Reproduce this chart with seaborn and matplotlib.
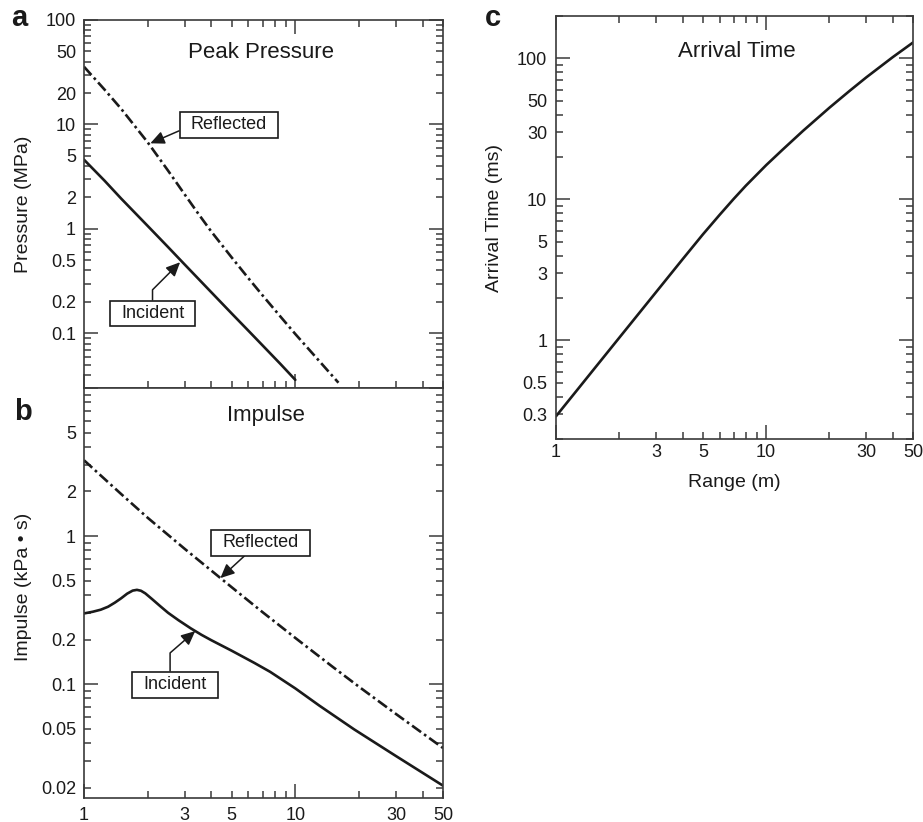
import matplotlib
matplotlib.use("Agg")
import matplotlib.pyplot as plt
from matplotlib.ticker import FuncFormatter
import pandas as pd
import seaborn as sns

# ---- data: blast parameters versus range (m) ----
pa_inc_range = [1, 1.25, 1.5, 2, 2.5, 3, 4, 5, 6, 7, 8.5, 10]
pa_inc_mpa = [4.6, 2.9, 1.95, 1.07, 0.67, 0.455, 0.248, 0.155, 0.106, 0.0767, 0.051, 0.0359]
pa_ref_range = [1, 1.25, 1.5, 2, 2.5, 3, 3.5, 4, 5, 6, 7, 8.5, 10, 13, 16]
pa_ref_mpa = [35.7, 21.6, 14.1, 6.76, 3.61, 2.13, 1.37, 0.946, 0.533, 0.337,
              0.231, 0.145, 0.0986, 0.0542, 0.0337]

ib_inc_range = [1, 1.1, 1.2, 1.3, 1.4, 1.5, 1.6, 1.7, 1.78, 1.86, 1.95, 2.1,
                2.3, 2.5, 2.8, 3.2, 3.6, 4, 5, 6.4, 7.6, 10, 13, 19, 30, 50]
ib_inc_kpas = [0.30, 0.308, 0.318, 0.333, 0.355, 0.38, 0.408, 0.428, 0.433,
               0.427, 0.41, 0.375, 0.335, 0.303, 0.27, 0.238, 0.215, 0.198,
               0.168, 0.139, 0.121, 0.0935, 0.0715, 0.0494, 0.0326, 0.0206]
ib_ref_range = [1, 1.5, 2, 3, 4, 5, 7, 10, 15, 20, 30, 50]
ib_ref_kpas = [3.25, 1.92, 1.33, 0.818, 0.585, 0.451, 0.306, 0.205, 0.131,
               0.096, 0.0627, 0.037]

at_range = [1, 1.25, 1.5, 2, 2.5, 3, 4, 5, 6, 7, 8, 10, 12, 15, 20, 25, 30, 40, 50]
at_ms = [0.29, 0.438, 0.614, 1.045, 1.578, 2.21, 3.76, 5.65, 7.76, 10.07, 12.5,
         17.5, 22.6, 30.7, 44.7, 59.0, 73.5, 102, 129.7]

x_ticklabels = [1, 3, 5, 10, 30, 50]
a_ticklabels = [100, 50, 20, 10, 5, 2, 1, 0.5, 0.2, 0.1]
b_ticklabels = [5, 2, 1, 0.5, 0.2, 0.1, 0.05, 0.02]
c_ticklabels = [100, 50, 30, 10, 5, 3, 1, 0.5, 0.3]

sns.set_theme(style="ticks")
plt.rcParams["font.family"] = ["Liberation Sans", "DejaVu Sans"]

INK = "#1a1a1a"
FRAME = "#3a3a3a"
DASHDOT = (0, (4.2, 1.4, 1.0, 1.4))

W, H = 923, 822
fig = plt.figure(figsize=(W / 100, H / 100), dpi=100)


def px_axes(left, top, right, bottom):
    return fig.add_axes([left / W, 1 - bottom / H, (right - left) / W, (bottom - top) / H])


ax_a = px_axes(84, 20, 443, 388)
ax_b = px_axes(84, 388, 443, 798)
ax_c = px_axes(556, 16, 913, 439)


def only(values):
    def f(v, pos):
        for t in values:
            if abs(v - t) / t < 1e-6:
                return "%g" % t
        return ""
    return FuncFormatter(f)


def style(ax, ylim, ylabels, xlabels, top=True, xpad=5.0, ypad=5.8):
    ax.set_xscale("log")
    ax.set_yscale("log")
    ax.set_xlim(1, 50)
    ax.set_ylim(*ylim)
    ax.grid(False)
    for s in ax.spines.values():
        s.set_color(FRAME)
        s.set_linewidth(1.2)
    ax.tick_params(which="both", direction="in", top=top, right=True,
                   bottom=True, left=True, color=FRAME, width=1.1,
                   labelsize=13, labelcolor=INK)
    ax.tick_params(which="major", length=10)
    ax.tick_params(which="minor", length=5)
    ax.tick_params(axis="x", which="both", pad=xpad)
    ax.tick_params(axis="y", which="both", pad=ypad)
    ax.yaxis.set_major_formatter(only(ylabels))
    ax.yaxis.set_minor_formatter(only(ylabels))
    shown = xlabels if xlabels else []
    ax.xaxis.set_major_formatter(only(shown))
    ax.xaxis.set_minor_formatter(only(shown))


def curve(ax, x, y, dashed=False):
    df = pd.DataFrame({"range": x, "value": y})
    kw = dict(linestyle=DASHDOT) if dashed else {}
    sns.lineplot(data=df, x="range", y="value", ax=ax, color=INK, lw=1.9,
                 sort=True, estimator=None, **kw)
    ax.set_xlabel("")
    ax.set_ylabel("")


def callout(ax, text, xy, xytext, relpos=(0.5, 0.5), conn="arc3"):
    ax.annotate(text, xy=xy, xytext=xytext, ha="center", va="center",
                fontsize=13, color=INK,
                bbox=dict(boxstyle="square,pad=0.62", fc="white", ec=INK,
                          lw=1.2, mutation_aspect=0.4),
                arrowprops=dict(arrowstyle="-|>,head_length=0.65,head_width=0.3",
                                color=INK, lw=1.1, shrinkA=0, shrinkB=0,
                                relpos=relpos, connectionstyle=conn))


# (a) peak pressure
curve(ax_a, pa_inc_range, pa_inc_mpa)
curve(ax_a, pa_ref_range, pa_ref_mpa, dashed=True)
style(ax_a, (0.03, 100), a_ticklabels, None, top=True)
ax_a.text(0.493, 0.913, "Peak Pressure", transform=ax_a.transAxes,
          ha="center", va="center", fontsize=16, color=INK)
ax_a.set_ylabel("Pressure (MPa)", fontsize=14, color=INK)
ax_a.yaxis.set_label_coords(-0.145, 0.5)
callout(ax_a, "Reflected", xy=(2.06, 6.6), xytext=(4.85, 9.9), relpos=(0.0, 0.45))
callout(ax_a, "Incident", xy=(2.85, 0.48), xytext=(2.11, 0.155), relpos=(0.5, 1.0),
        conn="angle,angleA=90,angleB=45,rad=0")

# (b) impulse
curve(ax_b, ib_inc_range, ib_inc_kpas)
curve(ax_b, ib_ref_range, ib_ref_kpas, dashed=True)
style(ax_b, (0.017, 10), b_ticklabels, x_ticklabels, top=False, xpad=6.2)
ax_b.text(0.507, 0.932, "Impulse", transform=ax_b.transAxes,
          ha="center", va="center", fontsize=16, color=INK)
ax_b.set_ylabel("Impulse (kPa \u2022 s)", fontsize=14, color=INK)
ax_b.yaxis.set_label_coords(-0.145, 0.515)
callout(ax_b, "Reflected", xy=(4.42, 0.52), xytext=(6.84, 0.904), relpos=(0.36, 0.0))
callout(ax_b, "Incident", xy=(3.36, 0.228), xytext=(2.70, 0.0993), relpos=(0.42, 1.0),
        conn="angle,angleA=90,angleB=41,rad=0")

# (c) arrival time
curve(ax_c, at_range, at_ms)
style(ax_c, (0.2, 200), c_ticklabels, x_ticklabels, top=True, xpad=3.5, ypad=6.3)
ax_c.text(0.507, 0.917, "Arrival Time", transform=ax_c.transAxes,
          ha="center", va="center", fontsize=16, color=INK)
ax_c.set_ylabel("Arrival Time (ms)", fontsize=14, color=INK)
ax_c.yaxis.set_label_coords(-0.148, 0.522)
ax_c.set_xlabel("Range (m)", fontsize=14, color=INK)
ax_c.xaxis.set_label_coords(0.5, -0.082)

# panel letters
for letter, (lx, ly) in {"a": (19.5, 26), "b": (23, 420), "c": (493, 26)}.items():
    fig.text(lx / W, 1 - ly / H, letter, ha="center", va="baseline",
             fontsize=21, fontweight="bold", color=INK)

fig.savefig("out.png", dpi=100)
